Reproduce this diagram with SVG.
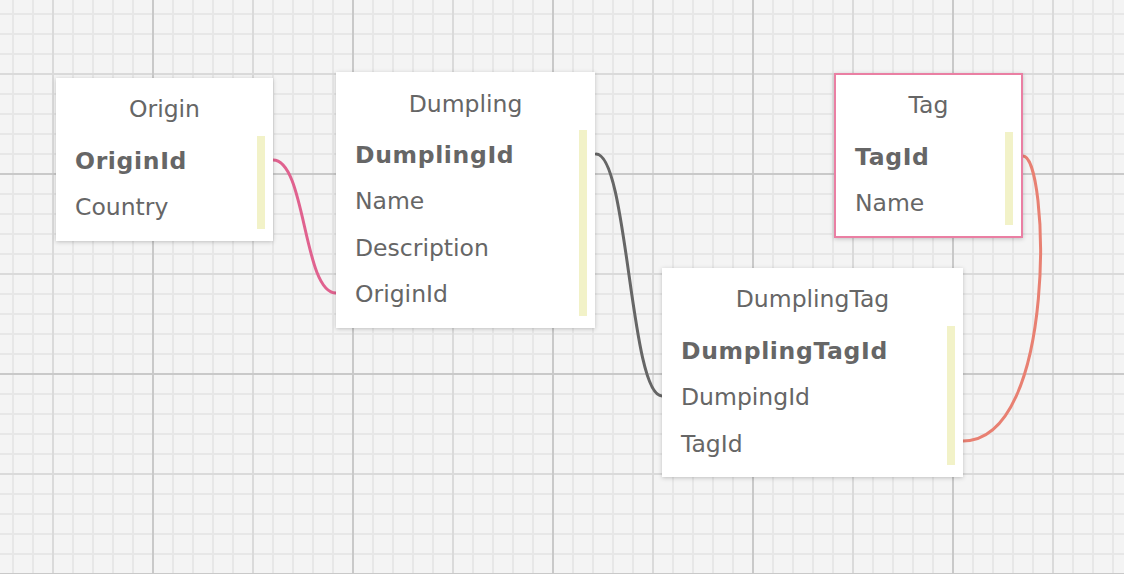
<svg xmlns="http://www.w3.org/2000/svg" width="1124" height="574" viewBox="0 0 1124 574">
<defs>
<pattern id="gMinor" patternUnits="userSpaceOnUse" x="3" y="4" width="20" height="20">
<rect x="9" y="0" width="2" height="20" fill="#e7e7e7"/>
<rect x="0" y="9" width="20" height="2" fill="#e7e7e7"/>
</pattern>
<pattern id="gMid" patternUnits="userSpaceOnUse" x="3" y="24" width="100" height="100">
<rect x="49" y="0" width="2" height="100" fill="#dadada"/>
<rect x="0" y="49" width="100" height="2" fill="#dadada"/>
</pattern>
<pattern id="gMajor" patternUnits="userSpaceOnUse" x="53" y="74" width="200" height="200">
<rect x="99" y="0" width="2" height="200" fill="#c9c9c9"/>
<rect x="0" y="99" width="200" height="2" fill="#c9c9c9"/>
</pattern>
<filter id="shadow" x="-10%" y="-10%" width="120%" height="125%">
<feDropShadow dx="0" dy="1" stdDeviation="2" flood-color="#000" flood-opacity="0.22"/>
</filter>
</defs>
<style>
.box{fill:#ffffff;filter:url(#shadow);}
.sel{stroke:#ea7fa3;stroke-width:2;}
.bar{fill:#f2f2c8;}
.title{font-family:"DejaVu Sans",Verdana,sans-serif;font-size:23.5px;fill:#666666;text-anchor:middle;}
.f{font-family:"DejaVu Sans",Verdana,sans-serif;font-size:23.5px;fill:#666666;}
.pk{font-weight:bold;letter-spacing:0.65px;}
.c{fill:none;stroke-width:3;stroke-linecap:round;}
</style>
<rect x="0" y="0" width="1124" height="574" fill="#f4f4f4"/>
<rect x="0" y="0" width="1124" height="574" fill="url(#gMinor)"/>
<rect x="0" y="0" width="1124" height="574" fill="url(#gMid)"/>
<rect x="0" y="0" width="1124" height="574" fill="url(#gMajor)"/>

<g id="connectors">
<path class="c" stroke="#e0628f" d="M273,160 C306,160 303,293 336,293"/>
<path class="c" stroke="#666666" d="M596,154 C628,154 630,396 662,396"/>
<path class="c" stroke="#e88072" d="M1023,156 C1049,156 1058,441 963,441"/>
</g>

<g id="Origin">
<rect class="box" x="56" y="78" width="217" height="163"/>
<rect class="bar" x="257" y="136" width="8" height="93"/>
<text class="title" x="164.5" y="117">Origin</text>
<text class="f pk" x="75" y="169">OriginId</text>
<text class="f" x="75" y="215">Country</text>
</g>

<g id="Dumpling">
<rect class="box" x="336" y="72" width="259" height="256"/>
<rect class="bar" x="579" y="130" width="8" height="186"/>
<text class="title" x="465.5" y="112">Dumpling</text>
<text class="f pk" x="355" y="163">DumplingId</text>
<text class="f" x="355" y="209">Name</text>
<text class="f" x="355" y="255.5">Description</text>
<text class="f" x="355" y="302">OriginId</text>
</g>

<g id="Tag">
<rect class="box sel" x="835" y="74" width="187" height="163"/>
<rect class="bar" x="1005" y="132" width="8" height="93"/>
<text class="title" x="928.5" y="113">Tag</text>
<text class="f pk" x="855" y="165">TagId</text>
<text class="f" x="855" y="211">Name</text>
</g>

<g id="DumplingTag">
<rect class="box" x="662" y="268" width="301" height="209"/>
<rect class="bar" x="947" y="326" width="8" height="139"/>
<text class="title" x="812.5" y="307">DumplingTag</text>
<text class="f pk" x="681" y="359">DumplingTagId</text>
<text class="f" x="681" y="405">DumpingId</text>
<text class="f" x="681" y="452">TagId</text>
</g>
</svg>
